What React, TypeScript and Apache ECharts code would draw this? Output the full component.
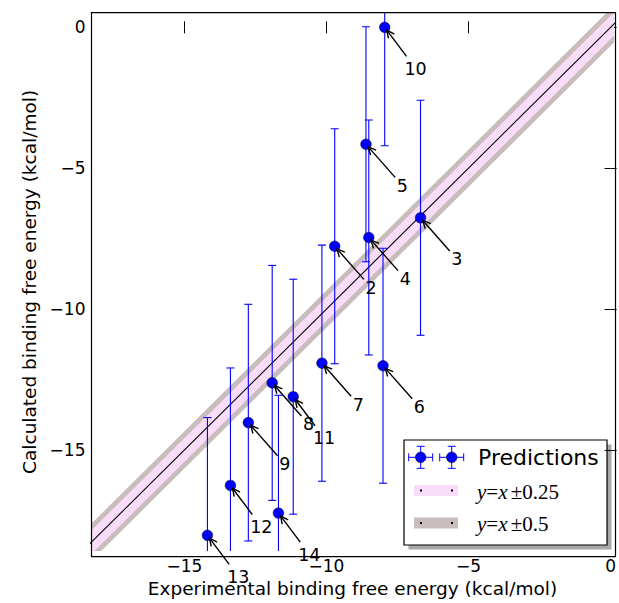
import React, { useEffect, useRef } from 'react';
import * as echarts from 'echarts';

const labels = ['2', '3', '4', '5', '6', '7', '8', '9', '10', '11', '12', '13', '14'];
const experimental = [-9.71, -6.69, -8.51, -8.61, -8.01, -10.16, -11.91, -12.75, -7.95, -11.17, -13.38, -14.19, -11.69];
const calculated = [-7.77, -6.76, -7.46, -4.15, -12.01, -11.92, -12.62, -14.03, 0.0, -13.11, -16.26, -18.03, -17.24];
const errors = [4.17, 4.17, 4.17, 4.17, 4.17, 4.19, 4.17, 4.2, 4.2, 4.17, 4.17, 4.18, 4.18];
const xTicks = [-15, -10, -5, 0];
const yTicks = [0, -5, -10, -15];
// visual half-widths of the shaded diagonal bands (vertical, in kcal/mol)
const bandOuter = 0.66;
const bandInner = 0.42;
const legendNames = ['Predictions', '0.25', '0.5'];

const X_MIN = -18.27;
const X_MAX = 0.1;
const Y_MIN = -18.59;
const Y_MAX = 0.52;

const GRID = { left: 91.5, right: 3.5, top: 12.7, bottom: 46.3 };
const W = 619;
const H = 603;
const FONT = 'DejaVu Sans';
const BLUE = '#0000ff';
const PINK = '#f8dcf8';
const GREY = '#c8bcbc';

const fmt = (v: number) => (v < 0 ? '\u2212' + Math.abs(v) : String(v));

export default function App() {
  const ref = useRef<HTMLDivElement>(null);
  useEffect(() => {
    if (!ref.current) return;
    const chart = echarts.init(ref.current, null, { renderer: 'svg' });
    const points = experimental.map((x, i) => [x, calculated[i], errors[i], labels[i]]);

    const bandSeries = (w: number, color: string, z: number) => ({
      type: 'custom',
      clip: true,
      silent: true,
      z,
      data: [[-30, 10, w]],
      renderItem: (params: any, api: any) => {
        const lo = api.value(0);
        const hi = api.value(1);
        const ww = api.value(2);
        const pts = [
          [lo, lo - ww],
          [hi, hi - ww],
          [hi, hi + ww],
          [lo, lo + ww],
        ].map((p) => api.coord(p));
        return { type: 'polygon', shape: { points: pts }, style: { fill: color } };
      },
    });

    const axisCommon = {
      type: 'value',
      axisLine: { show: false },
      splitLine: { show: false },
      axisTick: { show: true, inside: true, length: 6, lineStyle: { color: '#000', width: 1 } },
    };

    const lx = 404, ly = 440, lw = 203, lh = 105;
    const m1 = [420.7, 451.7];
    const legendChildren: any[] = [
      { type: 'rect', shape: { x: lx + 4.5, y: ly + 4.5, width: lw, height: lh }, style: { fill: '#a8a8a8' } },
      { type: 'rect', shape: { x: lx, y: ly, width: lw, height: lh }, style: { fill: '#fff', stroke: '#000', lineWidth: 1.2 } },
    ];
    m1.forEach((cx) => {
      const cy = 457.3;
      legendChildren.push(
        { type: 'line', shape: { x1: cx - 12, y1: cy, x2: cx + 12, y2: cy }, style: { stroke: BLUE, lineWidth: 1 } },
        { type: 'line', shape: { x1: cx, y1: cy - 11, x2: cx, y2: cy + 11 }, style: { stroke: BLUE, lineWidth: 1 } },
        { type: 'line', shape: { x1: cx - 12, y1: cy - 4, x2: cx - 12, y2: cy + 4 }, style: { stroke: BLUE, lineWidth: 1 } },
        { type: 'line', shape: { x1: cx + 12, y1: cy - 4, x2: cx + 12, y2: cy + 4 }, style: { stroke: BLUE, lineWidth: 1 } },
        { type: 'line', shape: { x1: cx - 4, y1: cy - 11, x2: cx + 4, y2: cy - 11 }, style: { stroke: BLUE, lineWidth: 1 } },
        { type: 'line', shape: { x1: cx - 4, y1: cy + 11, x2: cx + 4, y2: cy + 11 }, style: { stroke: BLUE, lineWidth: 1 } },
        { type: 'circle', shape: { cx, cy, r: 5.3 }, style: { fill: BLUE, stroke: '#000', lineWidth: 0.5 } }
      );
    });
    legendChildren.push({
      type: 'text',
      x: 478,
      y: 457.5,
      style: { text: legendNames[0], font: `22px "${FONT}"`, fill: '#000', textAlign: 'left', textVerticalAlign: 'middle' },
    });
    const rows = [
      { y: 490.5, color: PINK, val: legendNames[1] },
      { y: 523, color: GREY, val: legendNames[2] },
    ];
    rows.forEach((r) => {
      legendChildren.push(
        { type: 'rect', shape: { x: 414, y: r.y - 5.5, width: 44, height: 11 }, style: { fill: r.color } },
        { type: 'rect', shape: { x: 420, y: r.y - 1, width: 2, height: 2 }, style: { fill: '#000' } },
        { type: 'rect', shape: { x: 451, y: r.y - 1, width: 2, height: 2 }, style: { fill: '#000' } },
        {
          type: 'text',
          x: 477,
          y: r.y + 1,
          style: {
            text: `{i|y}{n|=}{i|x} {n|±${r.val}}`,
            textAlign: 'left',
            textVerticalAlign: 'middle',
            rich: {
              i: { fontFamily: 'Liberation Serif', fontStyle: 'italic', fontSize: 21, fill: '#000' },
              n: { fontFamily: 'Liberation Serif', fontSize: 21, fill: '#000' },
            },
          },
        }
      );
    });

    const gx1 = GRID.left, gy1 = GRID.top, gx2 = W - GRID.right, gy2 = H - GRID.bottom;

    chart.setOption({
      animation: false,
      grid: { ...GRID, show: false },
      xAxis: [
        {
          ...axisCommon,
          min: X_MIN,
          max: X_MAX,
          position: 'bottom',
          axisTick: { ...axisCommon.axisTick, customValues: xTicks },
          axisLabel: { customValues: xTicks, formatter: fmt, fontFamily: FONT, fontSize: 17, color: '#000', margin: 6 },
          name: 'Experimental binding free energy (kcal/mol)',
          nameLocation: 'middle',
          nameGap: 27,
          nameTextStyle: { fontFamily: FONT, fontSize: 18.5, color: '#000' },
        },
        {
          ...axisCommon,
          min: X_MIN,
          max: X_MAX,
          position: 'top',
          axisTick: { ...axisCommon.axisTick, customValues: xTicks },
          axisLabel: { show: false },
        },
      ],
      yAxis: [
        {
          ...axisCommon,
          min: Y_MIN,
          max: Y_MAX,
          position: 'left',
          axisTick: { ...axisCommon.axisTick, customValues: yTicks },
          axisLabel: { customValues: yTicks, formatter: fmt, fontFamily: FONT, fontSize: 17, color: '#000', margin: 6 },
          name: 'Calculated binding free energy (kcal/mol)',
          nameLocation: 'middle',
          nameGap: 51,
          nameTextStyle: { fontFamily: FONT, fontSize: 18.5, color: '#000' },
        },
        {
          ...axisCommon,
          min: Y_MIN,
          max: Y_MAX,
          position: 'right',
          axisTick: { ...axisCommon.axisTick, customValues: yTicks },
          axisLabel: { show: false },
        },
      ],
      graphic: [
        {
          type: 'rect',
          z: 100,
          silent: true,
          shape: { x: gx1, y: gy1, width: gx2 - gx1, height: gy2 - gy1 },
          style: { fill: 'none', stroke: '#000', lineWidth: 1.2 },
        },
        { type: 'group', z: 110, silent: true, children: legendChildren },
      ],
      series: [
        bandSeries(bandOuter, GREY, 1),
        bandSeries(bandInner, PINK, 2),
        {
          type: 'line',
          z: 3,
          silent: true,
          symbol: 'none',
          clip: true,
          data: [[-30, -30], [10, 10]],
          lineStyle: { color: '#000', width: 1.1 },
        },
        {
          type: 'custom',
          z: 4,
          clip: true,
          silent: true,
          data: points,
          renderItem: (params: any, api: any) => {
            const x = api.value(0);
            const y = api.value(1);
            const e = api.value(2);
            const t = api.coord([x, y + e]);
            const b = api.coord([x, y - e]);
            const cw = 4;
            const st = { stroke: BLUE, lineWidth: 1.1 };
            return {
              type: 'group',
              children: [
                { type: 'line', shape: { x1: t[0], y1: t[1], x2: b[0], y2: b[1] }, style: st },
                { type: 'line', shape: { x1: t[0] - cw, y1: t[1], x2: t[0] + cw, y2: t[1] }, style: st },
                { type: 'line', shape: { x1: b[0] - cw, y1: b[1], x2: b[0] + cw, y2: b[1] }, style: st },
              ],
            };
          },
        },
        {
          type: 'scatter',
          z: 5,
          silent: true,
          symbol: 'circle',
          symbolSize: 10.6,
          data: points.map((p) => [p[0], p[1]]),
          itemStyle: { color: BLUE, borderColor: '#000', borderWidth: 0.5, opacity: 1 },
        },
        {
          type: 'custom',
          z: 6,
          silent: true,
          data: points,
          renderItem: (params: any, api: any) => {
            const idx = params.dataIndex;
            const lab = labels[idx];
            const p = api.coord([api.value(0), api.value(1)]);
            const tw = lab.length * 10.8;
            const th = 13;
            const rx = p[0] + 42;
            const cy = p[1] + 41.5;
            const cx = rx - tw / 2;
            const dx = p[0] - cx;
            const dy = p[1] - cy;
            const len = Math.hypot(dx, dy);
            const ux = dx / len;
            const uy = dy / len;
            const hx = tw / 2 + 2;
            const hy = th / 2 + 6;
            const tEdge = Math.min(Math.abs(hx / ux), Math.abs(hy / uy));
            const sx = cx + ux * tEdge;
            const sy = cy + uy * tEdge;
            const ex = p[0] - ux * 3.5;
            const ey = p[1] - uy * 3.5;
            const ang = Math.atan2(-uy, -ux);
            const hl = 8.5;
            const ha = 0.45;
            const a1 = [ex + hl * Math.cos(ang + ha), ey + hl * Math.sin(ang + ha)];
            const a2 = [ex + hl * Math.cos(ang - ha), ey + hl * Math.sin(ang - ha)];
            const st = { stroke: '#000', lineWidth: 1.4, fill: 'none' };
            return {
              type: 'group',
              children: [
                { type: 'line', shape: { x1: sx, y1: sy, x2: ex, y2: ey }, style: st },
                { type: 'polyline', shape: { points: [a1, [ex, ey], a2] }, style: st },
                {
                  type: 'text',
                  x: rx,
                  y: cy,
                  style: {
                    text: lab,
                    font: `17.5px "${FONT}"`,
                    fill: '#000',
                    textAlign: 'right',
                    textVerticalAlign: 'middle',
                  },
                },
              ],
            };
          },
        },
      ],
    });
    return () => chart.dispose();
  }, []);
  return <div ref={ref} style={{ position: 'absolute', left: 0, top: 0, width: W, height: H }} />;
}
